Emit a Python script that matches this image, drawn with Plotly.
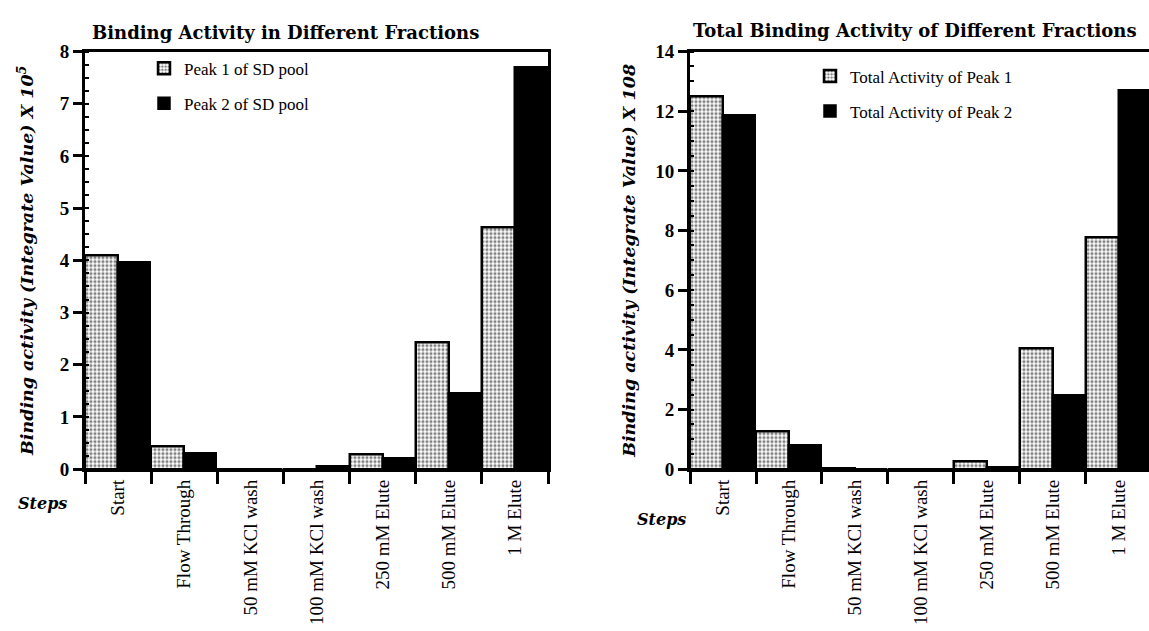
import plotly.graph_objects as go

# Purification steps (shared by both panels)
steps = ["Start", "Flow Through", "50 mM KCl wash", "100 mM KCl wash",
         "250 mM Elute", "500 mM Elute", "1 M Elute"]

# Binding activity (integrate value, x 10^5)
peak1_activity = [4.1, 0.43, 0.0, 0.0, 0.28, 2.42, 4.62]
peak2_activity = [3.95, 0.3, 0.0, 0.05, 0.2, 1.45, 7.7]

# Total binding activity (integrate value, x 10^8)
peak1_total = [12.5, 1.26, 0.03, 0.0, 0.25, 4.03, 7.78]
peak2_total = [11.85, 0.78, 0.0, 0.0, 0.07, 2.46, 12.7]

W, H = 1149, 631
SERIF = "Liberation Serif, Times New Roman, serif"
SLAB = "DejaVu Serif, serif"


def px_x(p):
    return p / W


def px_y(p):
    return 1 - p / H


stipple = dict(color="white", line=dict(color="black", width=2.5),
               pattern=dict(shape=".", fgcolor="black", bgcolor="white",
                            size=4, solidity=0.5))
solid = dict(color="black", line=dict(color="black", width=1.5))

fig = go.Figure()

fig.add_trace(go.Bar(x=steps, y=peak1_activity, name="Peak 1 of SD pool",
                     marker=stipple, xaxis="x", yaxis="y",
                     legend="legend", legendgroup="a1"))
fig.add_trace(go.Bar(x=steps, y=peak2_activity, name="Peak 2 of SD pool",
                     marker=solid, xaxis="x", yaxis="y",
                     legend="legend", legendgroup="a2"))
fig.add_trace(go.Bar(x=steps, y=peak1_total, name="Total Activity of Peak 1",
                     marker=stipple, xaxis="x2", yaxis="y2",
                     legend="legend2", legendgroup="b1"))
fig.add_trace(go.Bar(x=steps, y=peak2_total, name="Total Activity of Peak 2",
                     marker=solid, xaxis="x2", yaxis="y2",
                     legend="legend2", legendgroup="b2"))

y_dom = [px_y(475), px_y(43)]

xcommon = dict(type="category", tickson="boundaries", ticks="outside",
               ticklen=12, tickwidth=2.5, tickcolor="black",
               showline=True, linewidth=3, linecolor="black",
               tickangle=-90, tickfont=dict(family=SERIF, size=19, color="black"),
               showgrid=False, zeroline=False, categoryorder="array",
               categoryarray=steps)

ycommon = dict(ticks="outside", ticklen=9, tickwidth=2.5, tickcolor="black",
               showline=True, linewidth=3, linecolor="black",
               tickfont=dict(family=SERIF, size=19, color="black", weight="bold"),
               showgrid=False, zeroline=False)

ytitle_font = dict(family=SLAB, size=17.5, color="black", weight="bold",
                   style="italic")

fig.update_layout(
    width=W, height=H, autosize=False,
    margin=dict(l=0, r=0, t=0, b=0),
    paper_bgcolor="white", plot_bgcolor="white",
    barmode="group", bargap=0, bargroupgap=0,
    xaxis=dict(domain=[px_x(85), px_x(548)], range=[-0.5, 6.5],
               anchor="y", mirror=True, **xcommon),
    yaxis=dict(domain=y_dom, range=[0, 8], dtick=1, anchor="x", mirror=True,
               minor=dict(ticks="inside", ticklen=4, tickwidth=2,
                          tickcolor="black", dtick=0.25),
               title=dict(text="Binding activity (Integrate Value) X 10<sup>5</sup>",
                          font=ytitle_font, standoff=22),
               **ycommon),
    xaxis2=dict(domain=[px_x(690), 1.0], range=[-0.5, 6.455],
                anchor="y2", mirror=True, **xcommon),
    yaxis2=dict(domain=y_dom, range=[0, 14], dtick=2, anchor="x2",
                minor=dict(ticks="inside", ticklen=4, tickwidth=2,
                           tickcolor="black", dtick=0.5),
                title=dict(text="Binding activity (Integrate Value) X 108",
                           font=ytitle_font, standoff=16),
                **ycommon),
    legend=dict(x=px_x(144), y=px_y(42), xanchor="left", yanchor="top",
                bgcolor="rgba(0,0,0,0)", tracegroupgap=10,
                font=dict(family=SERIF, size=17, color="black")),
    legend2=dict(x=px_x(810), y=px_y(50), xanchor="left", yanchor="top",
                 bgcolor="rgba(0,0,0,0)", tracegroupgap=10,
                 font=dict(family=SERIF, size=17, color="black")),
    annotations=[
        dict(text="Binding Activity in Different Fractions", x=px_x(285),
             y=px_y(23), xref="paper", yref="paper", showarrow=False,
             xanchor="center", yanchor="middle",
             font=dict(family=SLAB, size=18, color="black", weight="bold")),
        dict(text="Total Binding Activity of Different Fractions", x=px_x(915),
             y=px_y(21), xref="paper", yref="paper", showarrow=False,
             xanchor="center", yanchor="middle",
             font=dict(family=SLAB, size=18, color="black", weight="bold")),
        dict(text="Steps", x=px_x(42), y=px_y(511), xref="paper", yref="paper",
             showarrow=False, xanchor="center", yanchor="middle",
             font=dict(family=SLAB, size=16, color="black", weight="bold",
                       style="italic")),
        dict(text="Steps", x=px_x(661), y=px_y(527), xref="paper", yref="paper",
             showarrow=False, xanchor="center", yanchor="middle",
             font=dict(family=SLAB, size=16, color="black", weight="bold",
                       style="italic")),
    ],
)

fig.write_html("out.html")
